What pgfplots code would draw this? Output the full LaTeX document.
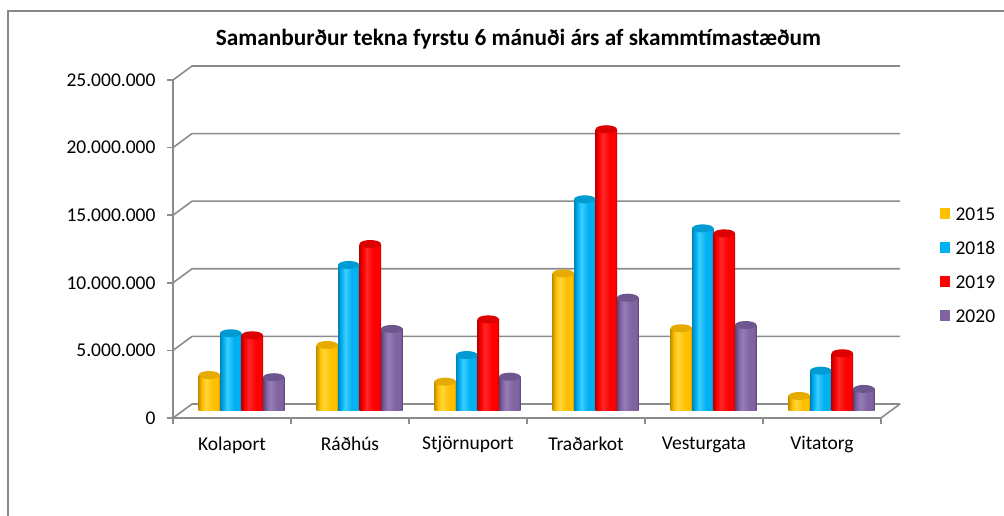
\documentclass[border=0pt]{standalone}
\usepackage{fontspec}
\setmainfont{Carlito}
\usepackage{pgfplots}
\pgfplotsset{compat=1.18}
\usetikzlibrary{shapes.geometric}

\definecolor{gridc}{RGB}{140,140,140}
\definecolor{frame}{RGB}{136,136,136}
% yellow
\definecolor{yD}{RGB}{200,145,0}
\definecolor{yM}{RGB}{255,192,0}
\definecolor{yL}{RGB}{255,214,60}
\definecolor{yC}{RGB}{230,170,0}
% blue
\definecolor{bD}{RGB}{0,130,185}
\definecolor{bM}{RGB}{0,176,240}
\definecolor{bL}{RGB}{60,205,255}
\definecolor{bC}{RGB}{0,155,210}
% red
\definecolor{rD}{RGB}{190,0,0}
\definecolor{rM}{RGB}{255,0,0}
\definecolor{rL}{RGB}{255,40,40}
\definecolor{rC}{RGB}{220,0,0}
% purple
\definecolor{pD}{RGB}{90,68,118}
\definecolor{pM}{RGB}{128,100,162}
\definecolor{pL}{RGB}{150,124,185}
\definecolor{pC}{RGB}{110,86,142}

\pgfdeclarehorizontalshading{cylY}{100bp}{color(0bp)=(yD); color(25bp)=(yD); color(33bp)=(yM); color(42bp)=(yL); color(58bp)=(yM); color(70bp)=(yM); color(75bp)=(yD); color(100bp)=(yD)}
\pgfdeclarehorizontalshading{cylB}{100bp}{color(0bp)=(bD); color(25bp)=(bD); color(33bp)=(bM); color(42bp)=(bL); color(58bp)=(bM); color(70bp)=(bM); color(75bp)=(bD); color(100bp)=(bD)}
\pgfdeclarehorizontalshading{cylR}{100bp}{color(0bp)=(rD); color(25bp)=(rD); color(33bp)=(rM); color(42bp)=(rL); color(58bp)=(rM); color(70bp)=(rM); color(75bp)=(rD); color(100bp)=(rD)}
\pgfdeclarehorizontalshading{cylP}{100bp}{color(0bp)=(pD); color(25bp)=(pD); color(33bp)=(pM); color(42bp)=(pL); color(58bp)=(pM); color(70bp)=(pM); color(75bp)=(pD); color(100bp)=(pD)}

\pgfplotstableread{
cat y2015 y2018 y2019 y2020
0 2660000 5750000 5600000 2500000
1 4880000 10800000 12350000 6070000
2 2170000 4140000 6780000 2540000
3 10180000 15660000 20840000 8380000
4 6120000 13510000 13140000 6360000
5 1110000 2980000 4270000 1630000
}\datatable

\begin{document}
\begin{tikzpicture}
\path[use as bounding box] (0pt,0pt) rectangle (1004pt,516pt);
\draw[frame, line width=2pt] (8pt,-2pt) -- (8pt,505pt) -- (1006pt,505pt);
\node[font=\bfseries\fontsize{23.3}{27}\selectfont, anchor=base] at (518.5pt,470pt) {Samanburður tekna fyrstu 6 mánuði árs af skammtímastæðum};

\begin{axis}[
  scale only axis, width=708pt, height=338pt,
  at={(173pt,98pt)}, anchor=south west,
  xmin=-0.5, xmax=5.5, ymin=0, ymax=25000000,
  axis x line*=bottom, axis y line*=left,
  axis line style={gridc, line width=1.6pt},
  xtick={-0.5,0.5,1.5,2.5,3.5,4.5,5.5}, xticklabels={},
  extra x ticks={0,1,2,3,4,5},
  extra x tick labels={Kolaport,Ráðhús,Stjörnuport,Traðarkot,Vesturgata,Vitatorg},
  extra x tick style={major tick length=0pt, xticklabel style={yshift=-15pt}},
  ytick={0,5000000,10000000,15000000,20000000,25000000},
  tick align=outside, major tick length=6pt,
  tick style={gridc, line width=1.6pt},
  scaled y ticks=false,
  tick label style={font=\fontsize{19.5}{23}\selectfont},
  yticklabel style={xshift=-8pt, /pgf/number format/.cd, fixed, precision=0, 1000 sep={.}, assume math mode=true},
  clip=false,
]
\pgfplotsinvokeforeach{0,5000000,10000000,15000000,20000000,25000000}{
  \draw[gridc, line width=1.6pt] (axis cs:-0.5,#1) -- ++(19pt,14pt) -- ([shift={(19pt,14pt)}]axis cs:5.5,#1);
}
\draw[gridc, line width=1.6pt] (axis cs:5.5,0) -- ++(19pt,14pt);
\end{axis}

\begin{axis}[
  scale only axis, width=708pt, height=338pt,
  at={(182.5pt,105pt)}, anchor=south west,
  xmin=-0.5, xmax=5.5, ymin=0, ymax=25000000,
  hide axis, clip=false,
  ybar=0pt, bar width=21.5pt,
  nodes near coords={\mbox{}},
  every node near coord/.append style={shape=ellipse, anchor=center, minimum width=21.5pt, minimum height=8pt, inner sep=0pt},
  legend style={draw=none, fill=none, at={(axis description cs:1.0699,0.4305)}, anchor=west,
     font=\fontsize{19.5}{23}\selectfont, row sep=22pt, inner sep=0pt,
     nodes={inner sep=0pt, text height=12pt, text depth=0pt},
     /tikz/every odd column/.append style={column sep=6pt}},
  legend cell align=left,
]
\addlegendimage{legend image code/.code={\fill[yM] (0pt,-3.5pt) rectangle (9pt,5.8pt);}}
\addlegendimage{legend image code/.code={\fill[bM] (0pt,-3.5pt) rectangle (9pt,5.8pt);}}
\addlegendimage{legend image code/.code={\fill[rM] (0pt,-3.5pt) rectangle (9pt,5.8pt);}}
\addlegendimage{legend image code/.code={\fill[pM] (0pt,-3.5pt) rectangle (9pt,5.8pt);}}
\legend{2015,2018,2019,2020}
\pgfplotsinvokeforeach{0,1,2,3,4,5}{
\addplot[draw=none, shade, shading=cylY, bar shift=-32.25pt, restrict x to domain=#1:#1, every node near coord/.append style={fill=yC}] table[x=cat, y=y2015] {\datatable};
\addplot[draw=none, shade, shading=cylB, bar shift=-10.75pt, restrict x to domain=#1:#1, every node near coord/.append style={fill=bC}] table[x=cat, y=y2018] {\datatable};
\addplot[draw=none, shade, shading=cylR, bar shift=10.75pt, restrict x to domain=#1:#1, every node near coord/.append style={fill=rC}] table[x=cat, y=y2019] {\datatable};
\addplot[draw=none, shade, shading=cylP, bar shift=32.25pt, restrict x to domain=#1:#1, every node near coord/.append style={fill=pC}] table[x=cat, y=y2020] {\datatable};
}
\end{axis}
\end{tikzpicture}
\end{document}
